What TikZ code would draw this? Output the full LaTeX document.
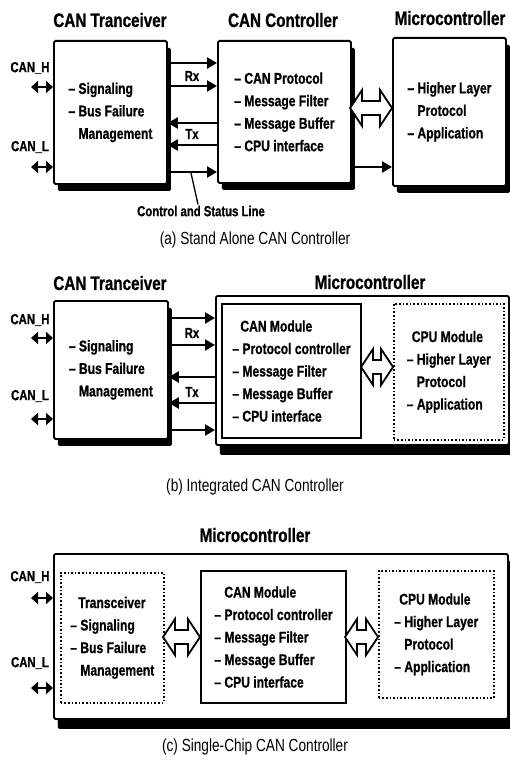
\documentclass[tikz,border=0pt]{standalone}
\usepackage{fontspec}
\setmainfont{Liberation Sans}[FakeStretch=0.78, BoldFeatures={FakeBold=0.8}]
\usetikzlibrary{arrows.meta,shadows,calc}
\newcommand{\harrow}[3]{%
  \draw[hollow] (#1,#3) -- (#1+12,#3-18) -- (#1+12,#3-7) -- (#2-12,#3-7) -- (#2-12,#3-18) -- (#2,#3)
    -- (#2-12,#3+18) -- (#2-12,#3+7) -- (#1+12,#3+7) -- (#1+12,#3+18) -- cycle;}
\newcommand{\ind}{\phantom{-- }}
\begin{document}
\begin{tikzpicture}[x=1pt,y=-1pt,
  boxtext/.style={font=\bfseries\fontsize{15.5}{22.5}\selectfont, align=left, inner sep=0pt, anchor=north west},
  box/.style={boxtext, draw, line width=1.8pt, fill=white, rounded corners=1.5pt,
    drop shadow={shadow xshift=4pt, shadow yshift=-7pt, fill=black, opacity=1}},
  bigbox/.style={box, drop shadow={shadow xshift=4pt, shadow yshift=-10pt, fill=black, opacity=1}},
  modbox/.style={boxtext, draw, line width=2pt, fill=white},
  dotbox/.style={boxtext, draw, dotted, line width=1.6pt},
  title/.style={font=\bfseries\fontsize{19.5}{21}\selectfont, inner sep=0pt},
  caption/.style={font=\fontsize{17.5}{20}\selectfont, inner sep=0pt},
  small/.style={font=\bfseries\fontsize{14.5}{16}\selectfont, inner sep=0pt},
  arr/.style={line width=2.2pt, -{Triangle[length=10pt,width=11pt]}},
  darr/.style={line width=2.6pt, {Triangle[length=7pt,width=12pt]}-{Triangle[length=7pt,width=12pt]}},
  hollow/.style={draw, line width=1.8pt, fill=white, line join=miter},
  lead/.style={line width=1.3pt}]
\useasboundingbox (0,0) rectangle (510,768);

% ================= (a) =================
\node[title] (ta1) at (110,20) {CAN Tranceiver};
\node[title] (ta2) at (283,20) {CAN Controller};
\node[title] (ta3) at (450,18) {Microcontroller};

\node[box, minimum width=113pt, minimum height=143pt] (tra) at (53,40)
  {-- Signaling\\-- Bus Failure\\\ind Management};
\node[box, minimum width=133pt, minimum height=142pt] (ctl) at (217,40)
  {-- CAN Protocol\\-- Message Filter\\-- Message Buffer\\-- CPU interface};
\node[box, minimum width=113pt, minimum height=148pt] (mca) at (392,37)
  {-- Higher Layer\\\ind Protocol\\-- Application};

\draw[arr] (tra.east|-0,63) -- (ctl.west|-0,63);
\draw[arr] (tra.east|-0,86) -- (ctl.west|-0,86);
\node[small] (rxa) at (192,76) {Rx};
\draw[arr] (ctl.west|-0,123) -- (tra.east|-0,123);
\draw[arr] (ctl.west|-0,145) -- (tra.east|-0,145);
\node[small] (txa) at (192,134) {Tx};
\draw[arr] (tra.east|-0,172) -- (ctl.west|-0,172);
\draw[arr] (ctl.east|-0,167) -- (mca.west|-0,167);
\harrow{350}{392}{108}

\node[small] (csl) at (201,211) {Control and Status Line};
\coordinate (csp) at (191,173);
\draw[lead] (csp) -- ($(csl.north)+(-3,-1)$);

\node[small] (cha) at (30,68) {CAN\_H};
\coordinate (cha0) at (31,87);
\draw[darr] (cha0) -- (tra.west|-cha0);
\node[small] (cla) at (30,147) {CAN\_L};
\coordinate (cla0) at (31,167);
\draw[darr] (cla0) -- (tra.west|-cla0);

\node[caption] (capa) at (255,240) {(a) Stand Alone CAN Controller};

% ================= (b) =================
\node[title] (tb1) at (110,283) {CAN Tranceiver};
\node[title] (tb2) at (370,282) {Microcontroller};

\node[box, minimum width=114pt, minimum height=138pt] (trb) at (53,300)
  {-- Signaling\\-- Bus Failure\\\ind Management};
\node[bigbox, minimum width=293pt, minimum height=149pt] (mcb) at (215,295) {};
\node[modbox, minimum width=139pt, minimum height=134pt] (canb) at (221,303)
  {\hspace{8pt}CAN Module\\-- Protocol controller\\-- Message Filter\\-- Message Buffer\\-- CPU interface};
\node[dotbox, minimum width=110pt, minimum height=136pt] (cpub) at (393,303)
  {\hspace{5pt}CPU Module\\-- Higher Layer\\\ind Protocol\\-- Application};

\draw[arr] (trb.east|-0,318) -- (mcb.west|-0,318);
\draw[arr] (trb.east|-0,345) -- (mcb.west|-0,345);
\node[small] (rxb) at (192,333) {Rx};
\draw[arr] (mcb.west|-0,377) -- (trb.east|-0,377);
\draw[arr] (mcb.west|-0,403) -- (trb.east|-0,403);
\node[small] (txb) at (192,392) {Tx};
\draw[arr] (trb.east|-0,430) -- (mcb.west|-0,430);
\harrow{361}{393}{367}

\node[small] (chb) at (30,320) {CAN\_H};
\coordinate (chb0) at (31,338);
\draw[darr] (chb0) -- (trb.west|-chb0);
\node[small] (clb) at (30,396) {CAN\_L};
\coordinate (clb0) at (31,419);
\draw[darr] (clb0) -- (trb.west|-clb0);

\node[caption] (capb) at (255,487) {(b) Integrated CAN Controller};

% ================= (c) =================
\node[title] (tc1) at (255,535) {Microcontroller};
\node[bigbox, minimum width=454pt, minimum height=165pt] (mcc) at (53,553) {};
\node[dotbox, minimum width=103pt, minimum height=130pt] (trc) at (60,572)
  {\hspace{8pt}Transceiver\\-- Signaling\\-- Bus Failure\\\ind Management};
\node[modbox, minimum width=145pt, minimum height=132pt] (canc) at (200,570)
  {\hspace{10pt}CAN Module\\-- Protocol controller\\-- Message Filter\\-- Message Buffer\\-- CPU interface};
\node[dotbox, minimum width=115pt, minimum height=127pt] (cpuc) at (378,570)
  {\hspace{5pt}CPU Module\\-- Higher Layer\\\ind Protocol\\-- Application};
\harrow{163}{200}{637}
\harrow{345}{378}{637}

\node[small] (chc) at (30,577) {CAN\_H};
\coordinate (chc0) at (31,598);
\draw[darr] (chc0) -- (mcc.west|-chc0);
\node[small] (clc) at (30,663) {CAN\_L};
\coordinate (clc0) at (31,688);
\draw[darr] (clc0) -- (mcc.west|-clc0);

\node[caption] (capc) at (255,747) {(c) Single-Chip CAN Controller};
\end{tikzpicture}
\end{document}
